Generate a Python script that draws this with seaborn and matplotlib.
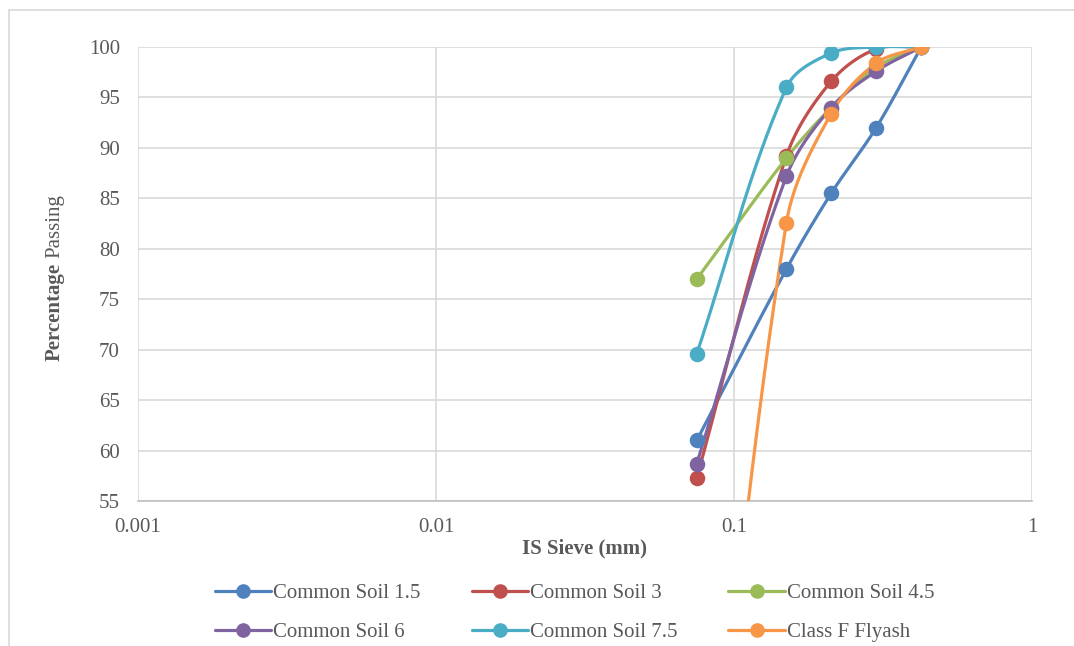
import numpy as np
import pandas as pd
import matplotlib
matplotlib.use("Agg")
import matplotlib.pyplot as plt
import seaborn as sns
from matplotlib.lines import Line2D
from matplotlib.patches import Rectangle

# sieve sizes (mm) and percentage passing
sieve = [0.075, 0.15, 0.212, 0.3, 0.425]
soil_1_5 = [61.0, 78.0, 85.5, 92.0, 100.0]
soil_3 = [57.3, 89.2, 96.6, 99.8, 100.0]
soil_4_5 = [77.0, 89.0, 94.0, 98.0, 100.0]
soil_6 = [58.7, 87.2, 94.0, 97.6, 100.0]
soil_7_5 = [69.6, 96.0, 99.4, 100.0, 100.0]
flyash = [10.0, 82.6, 93.4, 98.4, 100.0]

names = ["Common Soil 1.5", "Common Soil 3", "Common Soil 4.5",
         "Common Soil 6", "Common Soil 7.5", "Class F Flyash"]
series = [soil_1_5, soil_3, soil_4_5, soil_6, soil_7_5, flyash]
colors = ["#4F81BD", "#C0504D", "#9BBB59", "#8064A2", "#4BACC6", "#F79646"]

# screen scale (px per decade, px per % passing) used for the smoothing
XS, YS = 298.0, 454.0 / 45.0


def smooth(xs, ys, n=80):
    # excel-like smoothed line: bezier segments, control arms along the
    # neighbour chord, length a third of the segment (in screen space)
    p = np.column_stack([np.log10(xs) * XS, np.array(ys) * YS])
    m = len(p)
    tang = []
    for i in range(m):
        d = p[min(i + 1, m - 1)] - p[max(i - 1, 0)]
        tang.append(d / np.linalg.norm(d))
    out = []
    for i in range(m - 1):
        p0, p1 = p[i], p[i + 1]
        L = np.linalg.norm(p1 - p0) / 3
        c1 = p0 + tang[i] * L
        c2 = p1 - tang[i + 1] * L
        t = np.linspace(0, 1, n)[:, None]
        seg = ((1 - t) ** 3 * p0 + 3 * (1 - t) ** 2 * t * c1
               + 3 * (1 - t) * t ** 2 * c2 + t ** 3 * p1)
        out.append(seg if i == 0 else seg[1:])
    out = np.vstack(out)
    return 10 ** (out[:, 0] / XS), out[:, 1] / YS


sns.set_style("white")
plt.rcParams['font.family'] = ['Liberation Serif', 'DejaVu Serif']

fig = plt.figure(figsize=(10.74, 6.46), dpi=100)
ax = fig.add_axes([138 / 1074, 1 - 501 / 646, (1032 - 138) / 1074, (501 - 47) / 646])

for name, vals, col in zip(names, series, colors):
    sx, sy = smooth(sieve, vals)
    sns.lineplot(x=sx, y=sy, ax=ax, color=col, lw=2.3, sort=False,
                 estimator=None, zorder=3)
    sns.scatterplot(x=sieve, y=vals, ax=ax, color=col, s=125,
                    edgecolor=col, linewidth=0, zorder=4)

ax.set_xscale("log")
ax.set_xlim(0.001, 1)
ax.set_ylim(55, 100)
ax.set_yticks(np.arange(55, 101, 5))
ax.set_xticks([0.001, 0.01, 0.1, 1])
ax.set_xticklabels(["0.001", "0.01", "0.1", "1"])
ax.minorticks_off()
ax.grid(True, color="#D9D9D9", lw=1.2)
ax.set_axisbelow(True)
for s in ["top", "right", "left"]:
    ax.spines[s].set_visible(False)
ax.spines["bottom"].set_color("#BFBFBF")
ax.spines["bottom"].set_linewidth(1.2)
ax.tick_params(axis="y", length=0, labelsize=15, labelcolor="#595959", pad=13)
ax.tick_params(axis="x", length=0, labelsize=15, labelcolor="#595959", pad=12)

ax.set_xlabel("IS Sieve (mm)", fontsize=15, fontweight="bold", color="#595959", labelpad=1)
ax.set_ylabel("")
fig.text(55 / 1074, 1 - 312 / 646, "Percentage", rotation=90, fontsize=15,
         fontweight="bold", color="#595959", ha="center", va="center")
fig.text(55 / 1074, 1 - 226 / 646, "Passing", rotation=90, fontsize=15,
         color="#595959", ha="center", va="center")

# legend runs row-wise in the reference, matplotlib fills column-wise
order = [0, 3, 1, 4, 2, 5]
handles = [Line2D([0], [0], color=colors[i], lw=2.3, marker="o", markersize=9.5)
           for i in order]
fig.legend(handles, [names[i] for i in order], loc="center",
           bbox_to_anchor=(0.535, 1 - 613 / 646),
           ncol=3, frameon=False, fontsize=15, handlelength=2.7,
           columnspacing=2.45, labelspacing=0.95, handletextpad=0.1,
           labelcolor="#595959")

fig.patches.append(Rectangle((9 / 1074, -0.01), 1.1, 1 - 10 / 646 + 0.01,
                             transform=fig.transFigure, fill=False,
                             edgecolor="#D9D9D9", lw=1.2))

fig.savefig("out.png", dpi=100)
